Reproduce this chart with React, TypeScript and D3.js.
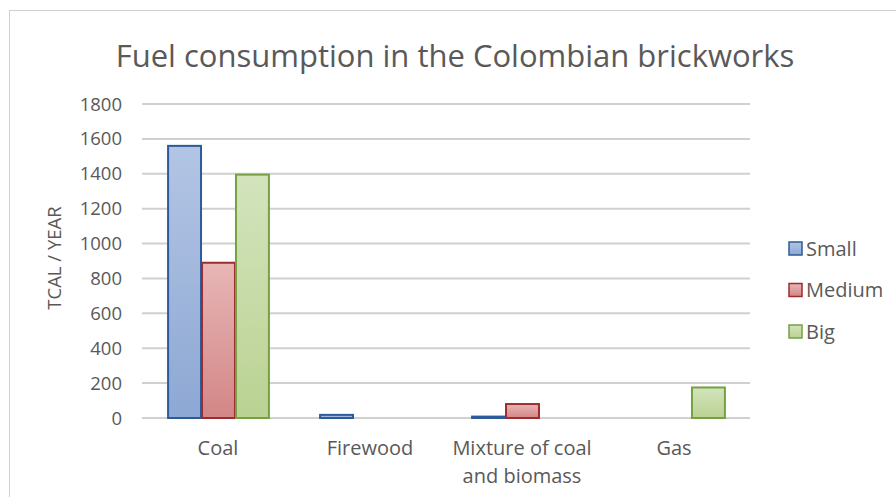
import React from "react";
import * as d3 from "d3";

const categories = [["Coal"], ["Firewood"], ["Mixture of coal", "and biomass"], ["Gas"]];
const seriesNames = ["Small", "Medium", "Big"];
const small = [1560, 18, 8, 0];
const medium = [890, 0, 80, 0];
const big = [1395, 0, 0, 175];
const yTicks = [0, 200, 400, 600, 800, 1000, 1200, 1400, 1600, 1800];

const seriesValues = [small, medium, big];
const strokes = ["#2d5a98", "#9b2d2f", "#77a043"];
const gradTop = ["#b3c5e4", "#e8b6b6", "#d3e4bd"];
const gradBottom = ["#8da8d4", "#d38686", "#bad292"];

const W = 896;
const H = 497;
const font = "'Open Sans', 'Noto Sans', sans-serif";

export default function App() {
  const plotLeft = 142;
  const plotRight = 750;
  const plotTop = 104;
  const plotBottom = 418;

  const y = d3.scaleLinear().domain([0, 1800]).range([plotBottom, plotTop]);
  const x0 = d3
    .scaleBand<number>()
    .domain(categories.map((_, i) => i))
    .range([plotLeft, plotRight])
    .paddingInner(0.33)
    .paddingOuter(0.165);
  const x1 = d3
    .scaleBand<number>()
    .domain(seriesNames.map((_, i) => i))
    .range([0, x0.bandwidth()]);

  return (
    <svg
      width={W}
      height={H}
      style={{ position: "absolute", left: 0, top: 0, display: "block" }}
      fontFamily={font}
    >
      <defs>
        {seriesNames.map((_, i) => (
          <linearGradient key={i} id={`g${i}`} x1="0" y1="0" x2="0" y2="1">
            <stop offset="0" stopColor={gradTop[i]} />
            <stop offset="1" stopColor={gradBottom[i]} />
          </linearGradient>
        ))}
      </defs>
      <rect x={0} y={0} width={W} height={H} fill="#ffffff" />
      <rect x={9.5} y={10.5} width={W + 10} height={H + 10} fill="none" stroke="#d0d0d0" strokeWidth={1} />

      <text x={455} y={67} textAnchor="middle" fontSize={31} fill="#595959">
        Fuel consumption in the Colombian brickworks
      </text>

      {yTicks.map((t) => (
        <g key={t}>
          <line
            x1={plotLeft}
            x2={plotRight}
            y1={y(t)}
            y2={y(t)}
            stroke="#d0d0d0"
            strokeWidth={2}
          />
          <text x={122} y={y(t) + 6.5} textAnchor="end" fontSize={18.5} fill="#595959">
            {t}
          </text>
        </g>
      ))}

      <text
        transform={`translate(61,258) rotate(-90)`}
        textAnchor="middle"
        fontSize={18.5}
        fill="#595959"
      >
        TCAL / YEAR
      </text>

      {categories.map((_, ci) =>
        seriesValues.map((vals, si) => {
          const v = vals[ci];
          if (v <= 0) return null;
          const bx = (x0(ci) as number) + (x1(si) as number);
          const by = y(v);
          return (
            <rect
              key={`${ci}-${si}`}
              x={bx + 1}
              y={by}
              width={x1.bandwidth() - 1}
              height={plotBottom - by}
              fill={`url(#g${si})`}
              stroke={strokes[si]}
              strokeWidth={2}
            />
          );
        })
      )}

      {categories.map((lines, ci) => {
        const cx = (x0(ci) as number) + x0.bandwidth() / 2;
        return (
          <text key={ci} textAnchor="middle" fontSize={20} fill="#595959">
            {lines.map((l, li) => (
              <tspan key={li} x={cx} y={455 + li * 28}>
                {l}
              </tspan>
            ))}
          </text>
        );
      })}

      {seriesNames.map((name, i) => {
        const ly = 248.5 + i * 41.5;
        return (
          <g key={name}>
            <rect
              x={789}
              y={ly - 6.5}
              width={13}
              height={13}
              fill={`url(#g${i})`}
              stroke={strokes[i]}
              strokeWidth={1.5}
            />
            <text x={806} y={ly + 7} fontSize={20} fill="#595959">
              {name}
            </text>
          </g>
        );
      })}
    </svg>
  );
}
